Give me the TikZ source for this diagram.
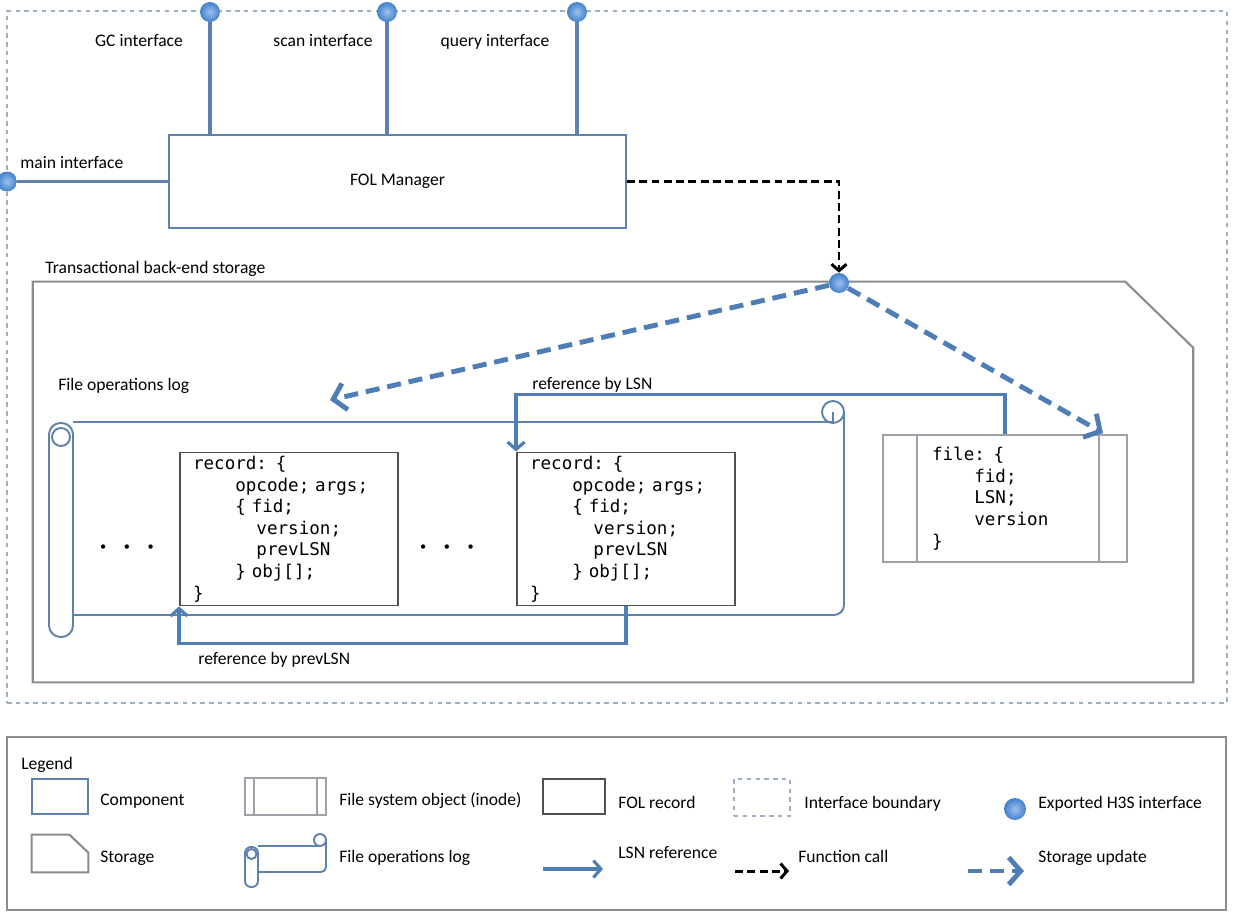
\documentclass[tikz,border=0pt]{standalone}
\usepackage{fontspec}
\setmainfont{Carlito}
\setmonofont{DejaVu Sans Mono}
\usetikzlibrary{arrows.meta,positioning,shadings}

\definecolor{compblue}{HTML}{5E81AD}
\definecolor{arrowblue}{HTML}{4F7DB5}
\definecolor{dotblue}{HTML}{4A8FE0}
\definecolor{ifgray}{HTML}{9DAFC2}
\definecolor{storegray}{HTML}{8C8C8C}
\definecolor{recgray}{HTML}{505050}
\definecolor{inodegray}{HTML}{A0A0A8}

\begin{document}
\begin{tikzpicture}[x=0.02cm, y=-0.02cm, font=\fontsize{10}{12}\selectfont]

    \tikzset{component/.style={%
      draw=compblue,%
      line width=1.1pt,%
      rectangle,%
      inner sep=0pt,%
      fill=white}%
    };

    \tikzset{codetxt/.style={%
      align=left,%
      inner ysep=0pt,%
      font=\ttfamily\fontsize{10}{12.3}\selectfont}%
    };

    \tikzset{recordbox/.style={codetxt, draw=recgray, line width=1.1pt, fill=white}};
    \tikzset{inode/.style={codetxt, draw=inodegray, line width=1pt, fill=white}};
    \tikzset{storage/.style={draw=storegray, line width=1.2pt}};
    \tikzset{boundary/.style={draw=ifgray, line width=1.5pt, dash pattern=on 2.5pt off 2.5pt, inner sep=0pt}};
    \tikzset{hsdot/.style={circle, minimum size=0.4cm, inner sep=0pt, shading=radial, inner color=dotblue!55!white, outer color=dotblue!90!black}};
    \tikzset{ifline/.style={draw=compblue, line width=1.8pt}};
    \tikzset{scroll/.style={draw=compblue, line width=1.1pt}};
    \tikzset{lsnref/.style={draw=arrowblue, line width=1.8pt, -{Straight Barb[length=1.5mm, width=3.4mm]}}};
    \tikzset{fcall/.style={draw=black, line width=1.7pt, dash pattern=on 4.5pt off 2.5pt, -{Straight Barb[length=1.3mm, width=3mm]}}};
    \tikzset{supd/.style={draw=arrowblue, line width=2.8pt, dash pattern=on 8pt off 4.5pt, -{Straight Barb[length=2.4mm, width=5.4mm]}}};
    \tikzset{lbl/.style={inner sep=0pt, text height=1.5ex, text depth=.25ex}};

    \useasboundingbox (0,0) rectangle (1235,920);

    %%%%%%%%%%%%%%%%%%%%%%%%%%
    %  interface boundary    %
    %%%%%%%%%%%%%%%%%%%%%%%%%%
    \node[boundary, minimum width=24.4cm, minimum height=13.84cm] (ifb) at (617,357) {};

    %%%%%%%%%%%%%%%%%%%
    %  FOL manager    %
    %%%%%%%%%%%%%%%%%%%
    \node[component, minimum width=9.14cm, minimum height=1.86cm] (fol) at (397.5,181.5) {FOL Manager};

    \coordinate (gcpos) at (210,12);
    \coordinate (scanpos) at (387,12);
    \coordinate (querypos) at (577,12);

    \draw[ifline] (gcpos) -- (gcpos |- fol.north);
    \draw[ifline] (scanpos) -- (scanpos |- fol.north);
    \draw[ifline] (querypos) -- (querypos |- fol.north);

    \node[hsdot] (gcdot) at (gcpos) {};
    \node[hsdot] (scandot) at (scanpos) {};
    \node[hsdot] (querydot) at (querypos) {};
    \node[hsdot] (maindot) at (7,181.5) {};

    \draw[ifline] (maindot) -- (fol.west);

    \node[lbl] (gclbl) at (139,41) {GC interface};
    \node[lbl] (scanlbl) at (323,41) {scan interface};
    \node[lbl] (querylbl) at (495,41) {query interface};
    \node[lbl, anchor=west] (mainlbl) at (20,163) {main interface};

    %%%%%%%%%%%%%%%%%%%%%%%%%%%%%%%%%%%
    %  transactional back-end storage %
    %%%%%%%%%%%%%%%%%%%%%%%%%%%%%%%%%%%
    \node[lbl, anchor=west] (storelbl) at (45,268) {Transactional back-end storage};
    \node[inner sep=0pt, minimum width=23.2cm, minimum height=8cm] (store) at (613,482) {};
    \draw[storage] (store.south west) -- (store.north west) -- ([xshift=-1.36cm]store.north east)
      -- ([yshift=-1.32cm]store.north east) -- (store.south east) -- cycle;

    %%%%%%%%%%%%%%%%%%%%%%%%%%%
    %  file operations log    %
    %%%%%%%%%%%%%%%%%%%%%%%%%%%
    \node[lbl, anchor=west] (loglbl) at (58,385) {File operations log};
    \draw[scroll] (73,422) -- (833,422);
    \draw[scroll, rounded corners=0.2cm] (844,412) -- (844,615) -- (73,615);
    \draw[scroll] (833,412) circle[radius=11];
    \draw[scroll] (833,412) -- (833,422);
    \draw[scroll, fill=white, rounded corners=0.23cm] (49,423) rectangle (73,637);
    \draw[scroll] (61,437) circle[radius=9];

    \node[recordbox, minimum height=3.06cm, text width=3.84cm, inner xsep=0.26cm] (rec1) at (289,529) {%
      record: \{\\
      \hphantom{0000}opcode; args;\\
      \hphantom{0000}\{ fid;\\
      \hphantom{000000}version;\\
      \hphantom{000000}prevLSN\\
      \hphantom{0000}\} obj[];\\
      \}};
    \node[recordbox, minimum height=3.06cm, text width=3.84cm, inner xsep=0.26cm] (rec2) at (626,529) {%
      record: \{\\
      \hphantom{0000}opcode; args;\\
      \hphantom{0000}\{ fid;\\
      \hphantom{000000}version;\\
      \hphantom{000000}prevLSN\\
      \hphantom{0000}\} obj[];\\
      \}};

    \node[inner sep=0pt, font=\fontsize{7}{7}\selectfont] (dots1) at (127,548) {\textbullet\hspace{10pt}\textbullet\hspace{10pt}\textbullet};
    \node[inner sep=0pt, font=\fontsize{7}{7}\selectfont] (dots2) at (447,548) {\textbullet\hspace{10pt}\textbullet\hspace{10pt}\textbullet};

    %%%%%%%%%%%%%%%%%%%%%%%%%%
    %  file system object    %
    %%%%%%%%%%%%%%%%%%%%%%%%%%
    \node[inode, minimum height=2.54cm, text width=2.92cm, inner xsep=0.98cm] (file) at (1005,498.5) {%
      file: \{\\
      \hphantom{0000}fid;\\
      \hphantom{0000}LSN;\\
      \hphantom{0000}version\\
      \}};
    \draw[inodegray, line width=1pt] ([xshift=0.7cm]file.north west) -- ([xshift=0.7cm]file.south west);
    \draw[inodegray, line width=1pt] ([xshift=-0.58cm]file.north east) -- ([xshift=-0.58cm]file.south east);

    %%%%%%%%%%%%%%%%%%%%%
    %  references       %
    %%%%%%%%%%%%%%%%%%%%%
    \draw[lsnref] (file.north) -- ++(0,-40) -| (rec2.north west);
    \node[lbl, anchor=west] (lsnlbl) at (532,384) {reference by LSN};
    \draw[lsnref] (rec2.south) -- ++(0,37) -| (rec1.south west);
    \node[lbl, anchor=west] (prevlbl) at (198,659) {reference by prevLSN};

    %%%%%%%%%%%%%%%%%%%%%%%%%%%%
    %  calls and updates       %
    %%%%%%%%%%%%%%%%%%%%%%%%%%%%
    \node[hsdot] (storedot) at (839,283) {};
    \draw[fcall] (fol.east) -| (storedot);
    \coordinate (logupd) at (330,400);
    \coordinate (fileupd) at (1103,433);
    \draw[supd] (storedot) -- (logupd);
    \draw[supd] (storedot) -- (fileupd);

    %%%%%%%%%%%%%%
    %  legend    %
    %%%%%%%%%%%%%%
    \node[draw=storegray, line width=1.2pt, minimum width=24.38cm, minimum height=3.46cm] (legend) at (616.5,823.5) {};
    \node[lbl, anchor=west] (legendlbl) at (21,764) {Legend};

    \node[component, minimum width=1.12cm, minimum height=0.7cm] (lgcomp) at (60,796.5) {};
    \node[lbl, anchor=west] (lgcomplbl) at (100,800) {Component};

    \node[inner sep=0pt, minimum width=1.12cm, minimum height=0.74cm] (lgstore) at (60,853.5) {};
    \draw[storage] (lgstore.south west) -- (lgstore.north west) -- ([xshift=-0.38cm]lgstore.north east)
      -- ([yshift=-0.36cm]lgstore.north east) -- (lgstore.south east) -- cycle;
    \node[lbl, anchor=west] (lgstorelbl) at (100,857) {Storage};

    \node[inode, inner sep=0pt, minimum width=1.62cm, minimum height=0.74cm] (lginode) at (285.5,796.5) {};
    \draw[inodegray, line width=1pt] ([xshift=0.2cm]lginode.north west) -- ([xshift=0.2cm]lginode.south west);
    \draw[inodegray, line width=1pt] ([xshift=-0.2cm]lginode.north east) -- ([xshift=-0.2cm]lginode.south east);
    \node[lbl, anchor=west] (lginodelbl) at (339,800) {File system object (inode)};

    \draw[scroll] (258,846) -- (320,846);
    \draw[scroll, rounded corners=0.1cm] (326,840) -- (326,872) -- (258,872);
    \draw[scroll] (320,840) circle[radius=6];
    \draw[scroll, fill=white, rounded corners=0.12cm] (245,847) rectangle (258,887);
    \draw[scroll] (251.5,854) circle[radius=5];
    \node[lbl, anchor=west] (lgloglbl) at (339,857) {File operations log};

    \node[recordbox, inner sep=0pt, minimum width=1.24cm, minimum height=0.7cm] (lgrec) at (574,796.5) {};
    \node[lbl, anchor=west] (lgreclbl) at (618,803) {FOL record};

    \coordinate (lglsnA) at (543,869);
    \coordinate (lglsnB) at (603,869);
    \draw[lsnref] (lglsnA) -- (lglsnB);
    \node[lbl, anchor=west] (lglsnlbl) at (618,853) {LSN reference};

    \node[boundary, minimum width=1.12cm, minimum height=0.74cm] (lgif) at (762,797.5) {};
    \node[lbl, anchor=west] (lgiflbl) at (804,803) {Interface boundary};

    \coordinate (lgfcA) at (735,871);
    \coordinate (lgfcB) at (789,871);
    \draw[fcall] (lgfcA) -- (lgfcB);
    \node[lbl, anchor=west] (lgfclbl) at (798,857) {Function call};

    \node[hsdot, minimum size=0.44cm] (lgdot) at (1015,809) {};
    \node[lbl, anchor=west] (lgdotlbl) at (1038,803) {Exported H3S interface};

    \coordinate (lgsuA) at (968,871);
    \coordinate (lgsuB) at (1024,871);
    \draw[supd] (lgsuA) -- (lgsuB);
    \node[lbl, anchor=west] (lgsulbl) at (1038,857) {Storage update};

  \end{tikzpicture}
\end{document}
